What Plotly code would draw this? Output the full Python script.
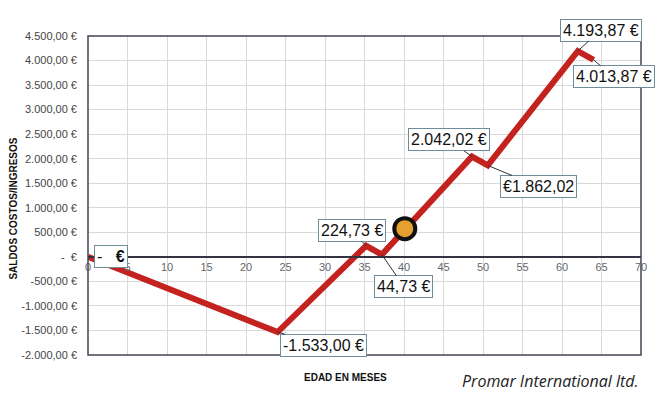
import plotly.graph_objects as go

# Data
months = [0, 24, 35.2, 37.2, 48.6, 50.6, 62, 64]
balance = [0, -1533.00, 224.73, 44.73, 2042.02, 1862.02, 4193.87, 4013.87]
point_labels = ["-   <b>€</b>", "-1.533,00 €", "224,73 €", "44,73 €", "2.042,02 €", "€1.862,02", "4.193,87 €", "4.013,87 €"]
label_offsets = [(23, 0), (46, 13), (-14, -15), (22, 32), (-23, -17), (51, 21), (23, -21), (20, 17)]
marker_x = [40.1]
marker_y = [575]

y_tickvals = [4500, 4000, 3500, 3000, 2500, 2000, 1500, 1000, 500, 0, -500, -1000, -1500, -2000]
y_ticktext = ["4.500,00 €", "4.000,00 €", "3.500,00 €", "3.000,00 €", "2.500,00 €", "2.000,00 €",
              "1.500,00 €", "1.000,00 €", "500,00 €", "-  €", "-500,00 €", "-1.000,00 €",
              "-1.500,00 €", "-2.000,00 €"]
x_tickvals = list(range(0, 75, 5))

YMIN, YMAX = -2000, 4500

fig = go.Figure()
fig.add_trace(go.Scatter(x=months, y=balance, mode="lines",
                         line=dict(color="#C3221F", width=6), hoverinfo="skip", cliponaxis=False))
fig.add_trace(go.Scatter(x=marker_x, y=marker_y, mode="markers",
                         marker=dict(size=21, color="#E5A030", line=dict(color="#111111", width=4)),
                         hoverinfo="skip"))

for (x, y, t, (ax, ay)) in zip(months, balance, point_labels, label_offsets):
    fig.add_annotation(x=x, y=y, text=t, showarrow=True, ax=ax, ay=ay,
                       arrowhead=0, arrowwidth=1, arrowcolor="#333333", standoff=0,
                       bgcolor="white", bordercolor="#6E8C9A", borderwidth=1, borderpad=2,
                       font=dict(family="Liberation Sans, Arial", size=16, color="#111111"))

fig.add_annotation(xref="paper", yref="paper", x=-0.135, xanchor="center", y=0.46, yanchor="middle",
                   text="<b>SALDOS COSTOS/INGRESOS</b>",
                   textangle=-90, showarrow=False,
                   font=dict(family="Liberation Sans, Arial", size=10, color="#111111"))
fig.add_annotation(xref="paper", yref="paper", x=0.466, y=-0.072, yanchor="middle", text="<b>EDAD EN MESES</b>",
                   showarrow=False, font=dict(family="Liberation Sans, Arial", size=10, color="#111111"))
fig.add_annotation(xref="paper", yref="paper", x=1.0, xanchor="right", y=-0.08, yanchor="middle",
                   text="<i>Promar International ltd.</i>", showarrow=False,
                   font=dict(family="Open Sans", size=16, color="#222222"))

# frame
fig.add_shape(type="rect", xref="paper", yref="paper", x0=0, y0=0, x1=1, y1=1,
              line=dict(color="#444455", width=1.5), layer="above")

fig.update_layout(
    width=666, height=399,
    margin=dict(l=88, r=25, t=36, b=44),
    plot_bgcolor="white", paper_bgcolor="white",
    showlegend=False,
    font=dict(family="Liberation Sans, Arial", color="#444444"),
    xaxis=dict(range=[0, 70], tickvals=x_tickvals, showgrid=True, gridcolor="#D9D9D9", gridwidth=1,
               anchor="free", position=(0 - YMIN) / (YMAX - YMIN),
               showline=True, linecolor="#333344", linewidth=1.5, zeroline=False,
               ticks="", tickfont=dict(size=11, color="#666666")),
    yaxis=dict(range=[YMIN, YMAX], tickvals=y_tickvals, ticktext=y_ticktext,
               showgrid=True, gridcolor="#D9D9D9", gridwidth=1, zeroline=False,
               ticks="", ticklabelstandoff=10, tickfont=dict(size=11, color="#444444")),
)

fig.write_html("out.html")
